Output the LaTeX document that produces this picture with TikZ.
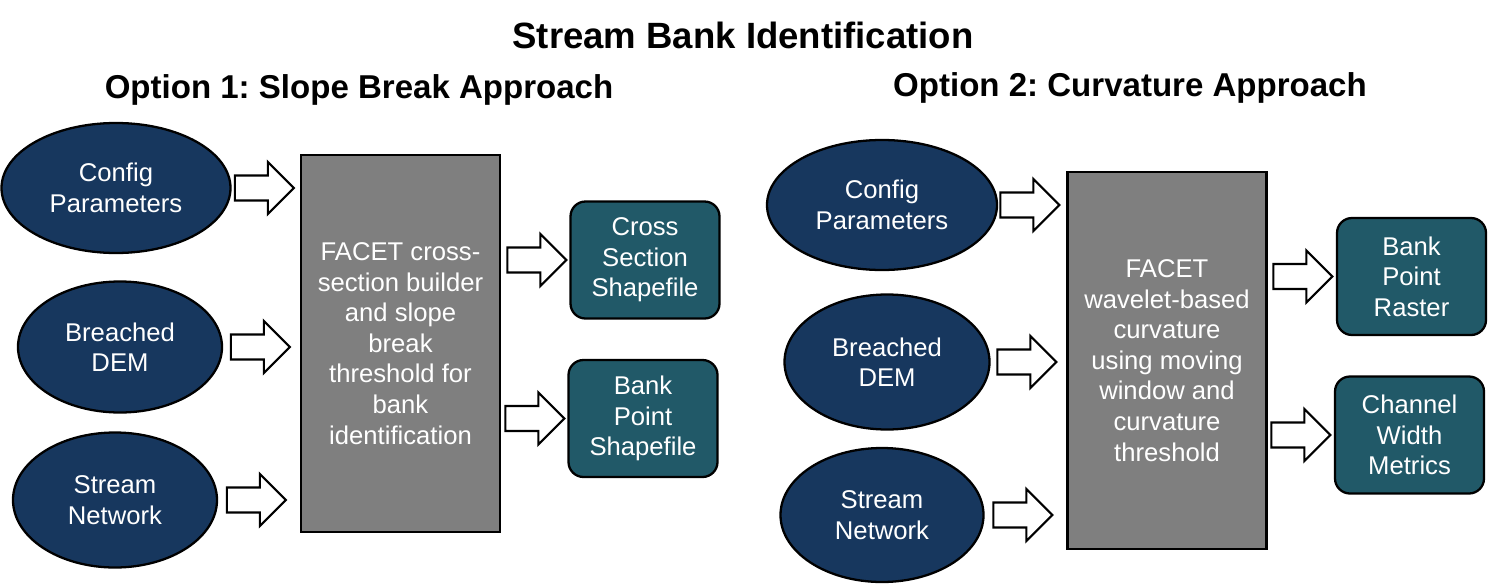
\documentclass[tikz,border=0pt]{standalone}
\usepackage{fontspec}
\setmainfont{Liberation Sans}
\usepackage{xcolor}
\usetikzlibrary{shapes, arrows, positioning, calc}
\frenchspacing

\definecolor{banknavy}{RGB}{23,55,94}
\definecolor{bankteal}{RGB}{33,89,104}
\definecolor{bankgray}{RGB}{127,127,127}

\newcommand{\fatarrow}[3]{%
    \draw[fatarrow] let \p1 = (#1.center), \p2 = (#2.west) in
        (\x2-#3, \y1) -- ++(-0.52,0.52) -- ++(0,-0.27) -- ++(-0.66,0)
        -- ++(0,-0.5) -- ++(0.66,0) -- ++(0,-0.27) -- cycle;}

\begin{document}
\begin{tikzpicture}[font=\fontsize{14.6}{17.4}\selectfont,
        input/.style={ellipse, draw, line width=1.3pt, fill=banknavy, text=white, align=center, inner sep=0pt},
        proc/.style={rectangle, draw, line width=1.3pt, fill=bankgray, text=white, align=center, minimum width=3.98cm, minimum height=7.54cm},
        output/.style={rectangle, rounded corners=0.3cm, draw, line width=1.3pt, fill=bankteal, text=white, align=center, minimum width=2.98cm, minimum height=2.34cm, inner sep=0pt},
        fatarrow/.style={draw, fill=white, line width=1.2pt, line join=miter},
        heading/.style={font=\bfseries\fontsize{18.8}{22}\selectfont}]
        \useasboundingbox (0,0) rectangle (29.8,11.68);

        \node[font=\bfseries\fontsize{20.8}{24}\selectfont] (title) at (14.86,10.98) {Stream Bank Identification};
        \node[heading] (optA) at (7.18,9.88) {Option 1: Slope Break Approach};
        \node[heading] (optB) at (22.6,9.92) {Option 2: Curvature Approach};

        \node[input, minimum width=4.58cm, minimum height=2.6cm] (cfgA) at (2.32,7.92) {Config\\Parameters};
        \node[input, minimum width=4.08cm, minimum height=2.62cm] (demA) at (2.40,4.74) {Breached\\DEM};
        \node[input, minimum width=4.08cm, minimum height=2.7cm] (netA) at (2.30,1.68) {Stream\\Network};

        \node[proc] (boxA) at (8.01,4.81) {FACET cross-\\section builder\\and slope\\break\\threshold for\\bank\\identification};

        \node[output] (outA1) at (12.9,6.48) {Cross\\Section\\Shapefile};
        \node[output] (outA2) at (12.86,3.31) {Bank\\Point\\Shapefile};

        \fatarrow{cfgA}{boxA}{0.12cm}
        \fatarrow{demA}{boxA}{0.2cm}
        \fatarrow{netA}{boxA}{0.28cm}
        \fatarrow{outA1}{outA1}{0.06cm}
        \fatarrow{outA2}{outA2}{0.06cm}

        \node[input, minimum width=4.6cm, minimum height=2.6cm] (cfgB) at (17.64,7.58) {Config\\Parameters};
        \node[input, minimum width=4.1cm, minimum height=2.7cm] (demB) at (17.74,4.44) {Breached\\DEM};
        \node[input, minimum width=4.06cm, minimum height=2.68cm] (netB) at (17.64,1.38) {Stream\\Network};

        \node[proc] (boxB) at (23.34,4.47) {FACET\\wavelet-based\\curvature\\using moving\\window and\\curvature\\threshold};

        \node[output] (outB1) at (28.23,6.15) {Bank\\Point\\Raster};
        \node[output] (outB2) at (28.19,2.98) {Channel\\Width\\Metrics};

        \fatarrow{cfgB}{boxB}{0.14cm}
        \fatarrow{demB}{boxB}{0.2cm}
        \fatarrow{netB}{boxB}{0.28cm}
        \fatarrow{outB1}{outB1}{0.07cm}
        \fatarrow{outB2}{outB2}{0.07cm}
    \end{tikzpicture}
\end{document}
